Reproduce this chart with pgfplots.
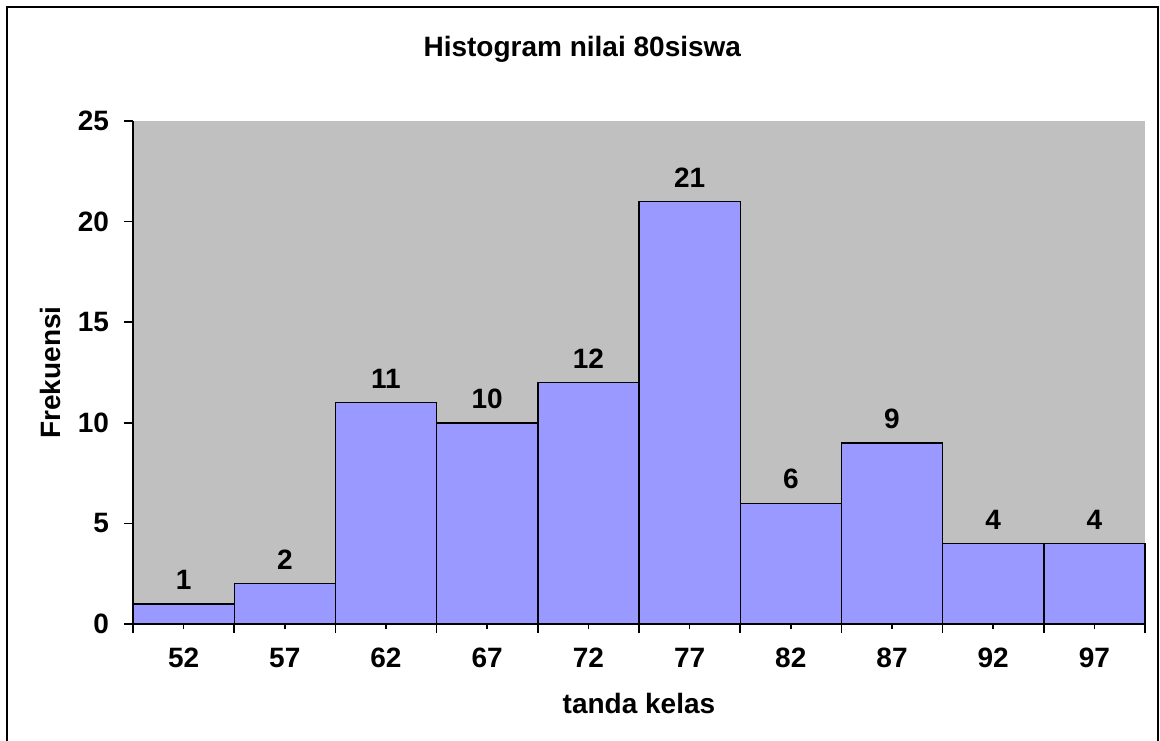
\documentclass[border=0pt]{standalone}
\usepackage{pgfplots}
\pgfplotsset{compat=1.18}
\usepackage{fontspec}
\setmainfont{Liberation Sans}
\definecolor{plotgray}{HTML}{C0C0C0}
\definecolor{barblue}{HTML}{9999FF}
\begin{document}
\begin{tikzpicture}
\pgfplotstableread{
x y
0 1
1 2
2 11
3 10
4 12
5 21
6 6
7 9
8 4
9 4
}\datatable
\path[use as bounding box] (-66.5pt,-58pt) rectangle (513.5pt,312pt);
\draw[line width=1pt] (-63pt,-70pt) -- (-63pt,308.5pt) -- (512.5pt,308.5pt) -- (512.5pt,-70pt);
\begin{axis}[
  at={(0,0)}, anchor=south west,
  scale only axis, width=506pt, height=251.5pt,
  font=\bfseries\fontsize{14}{16}\selectfont,
  axis background/.style={fill=plotgray},
  axis x line*=bottom, axis y line*=left,
  axis line style={-, line width=0.8pt},
  xmin=-0.5, xmax=9.5, ymin=0, ymax=25,
  ytick={0,5,...,25},
  xtick={-0.5,0.5,...,9.5},
  xticklabels={},
  minor x tick num=1,
  major tick length=4.5pt,
  minor tick length=2.5pt,
  extra x ticks={0,...,9},
  extra x tick labels={52,57,62,67,72,77,82,87,92,97},
  extra x tick style={tick style={draw=none}},
  tick align=outside,
  tick style={black, line width=0.8pt},
  /pgf/number format/assume math mode=true,
  xticklabel style={yshift=-4pt},
  yticklabel style={xshift=-4pt},
  title={Histogram nilai 80siswa},
  title style={at={(axis description cs:0.444,1.119)}, anchor=center},
  xlabel={tanda kelas},
  xlabel style={at={(axis description cs:0.5,-0.159)}, anchor=center},
  ylabel={Frekuensi},
  ylabel style={at={(axis description cs:-0.082,0.5)}, anchor=center},
  clip=false,
]
\addplot[ybar, bar width=1, fill=barblue, draw=black, line width=0.7pt,
  nodes near coords, nodes near coords style={font=\bfseries\fontsize{14}{16}\selectfont, yshift=3.5pt}]
  table[x=x,y=y] {\datatable};
\end{axis}
\end{tikzpicture}
\end{document}
